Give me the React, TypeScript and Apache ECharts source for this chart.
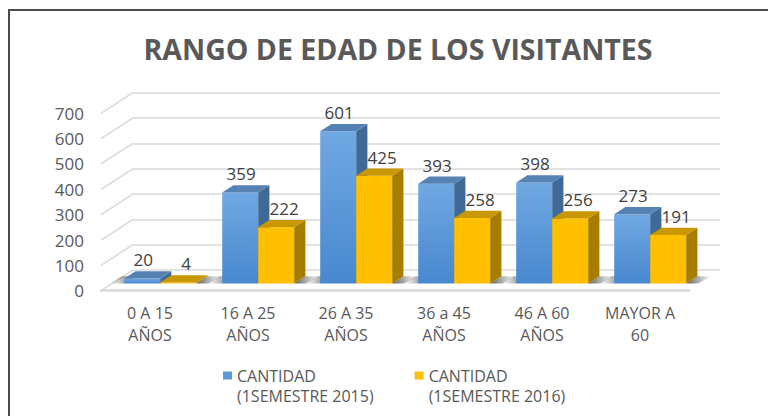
import React, { useEffect, useRef } from "react";
import * as echarts from "echarts";

const titleText = "RANGO DE EDAD DE LOS VISITANTES";
const categories = ["0 A 15\nAÑOS", "16 A 25\nAÑOS", "26 A 35\nAÑOS", "36 a 45\nAÑOS", "46 A 60\nAÑOS", "MAYOR A\n60"];
const seriesNames = ["CANTIDAD (1SEMESTRE 2015)", "CANTIDAD (1SEMESTRE 2016)"];
const values2015 = [20, 359, 601, 393, 398, 273];
const values2016 = [4, 222, 425, 258, 256, 191];
const yTicks = [0, 100, 200, 300, 400, 500, 600, 700];
const Y_MAX = 700;
const Y_STEP = 100;

const FONT = "'Open Sans', 'Liberation Sans', sans-serif";
const TEXT = "#595959";

// projection geometry
const FRONT = { left: 101, top: 113.3, width: 588, height: 177.4 };
const DX = 32;
const DY = -20.7;
const Z0 = 0.35;
const Z1 = 0.7;
const BAR_W = 36;
const bdx = (Z1 - Z0) * DX;
const bdy = (Z1 - Z0) * DY;

const BLUE = {
  legend: "#5B9BD5",
  frontTop: "#70a8e2",
  frontBottom: "#4888cf",
  top: "#5581b3",
  side: "#3f6a98",
};
const YELLOW = {
  legend: "#FFC000",
  frontTop: "#ffc000",
  frontBottom: "#ffbf00",
  top: "#c99700",
  side: "#a77d00",
};

function barSeries(name: string, values: number[], pal: any, xShift: number, labelOff: number) {
  return {
    type: "custom",
    name,
    xAxisIndex: 2,
    yAxisIndex: 2,
    z: 5,
    itemStyle: { color: pal.legend },
    data: values.map((v, i) => [i, v]),
    renderItem: (params: any, api: any) => {
      const ci = api.value(0);
      const v = api.value(1);
      const t = api.coord([ci, v]);
      const b = api.coord([ci, 0]);
      const x0 = t[0] + xShift;
      const x1 = x0 + BAR_W;
      const yT = t[1];
      const yB = b[1];
      return {
        type: "group",
        children: [
          {
            type: "rect",
            shape: { x: x0, y: yT, width: BAR_W, height: Math.max(yB - yT, 0.5) },
            style: {
              fill: new echarts.graphic.LinearGradient(0, 0, 0, 1, [
                { offset: 0, color: pal.frontTop },
                { offset: 1, color: pal.frontBottom },
              ]),
            },
          },
          {
            type: "polygon",
            shape: { points: [[x1, yT], [x1 + bdx, yT + bdy], [x1 + bdx, yB + bdy], [x1, yB]] },
            style: { fill: pal.side },
          },
          {
            type: "polygon",
            shape: { points: [[x0, yT], [x0 + bdx, yT + bdy], [x1 + bdx, yT + bdy], [x1, yT]] },
            style: { fill: pal.top },
          },
          {
            type: "text",
            style: {
              x: (x0 + x1) / 2 + labelOff,
              y: yT + bdy - 11.5,
              text: String(v),
              fill: "#404040",
              font: `17px ${FONT}`,
              align: "center",
              verticalAlign: "middle",
            },
          },
        ],
      };
    },
  };
}

export default function App() {
  const ref = useRef<HTMLDivElement>(null);
  useEffect(() => {
    if (!ref.current) return;
    const chart = echarts.init(ref.current, null, { renderer: "svg" });
    const barGrid = {
      left: FRONT.left + Z0 * DX - 1,
      top: FRONT.top + Z0 * DY,
      width: FRONT.width,
      height: FRONT.height,
    };
    const backGrid = {
      left: FRONT.left + DX,
      top: FRONT.top + DY,
      width: FRONT.width - 1,
      height: FRONT.height,
    };
    const valueAxisBase = { type: "value", min: 0, max: Y_MAX, interval: Y_STEP };
    chart.setOption({
      animation: false,
      backgroundColor: "#ffffff",
      title: {
        text: titleText,
        left: 393,
        textAlign: "center",
        top: 29,
        textStyle: { fontFamily: FONT, fontWeight: "bold", fontSize: 28.5, color: TEXT },
      },
      graphic: [
        {
          type: "rect",
          shape: { x: 9, y: 10, width: 900, height: 600 },
          style: { fill: "none", stroke: "#4a4a4a", lineWidth: 2 },
          silent: true,
        },
      ],
      legend: {
        left: 218,
        top: 361,
        itemWidth: 9,
        itemHeight: 29,
        itemGap: 41,
        selectedMode: false,
        data: seriesNames.map((n) => ({ name: n, icon: "path://M0,0H9V8H0Z M0,29H9" })),
        formatter: (n: string) => n.replace(" (", "\n("),
        itemStyle: { borderWidth: 0 },
        textStyle: { fontFamily: FONT, fontSize: 16, lineHeight: 20, color: TEXT },
      },
      grid: [
        { ...FRONT, containLabel: false },
        { ...backGrid, containLabel: false },
        { ...barGrid, containLabel: false },
      ],
      xAxis: [
        {
          type: "category",
          gridIndex: 0,
          data: categories,
          axisLine: { show: true, lineStyle: { color: "#d9d9d9", width: 2.5 } },
          axisTick: { show: false },
          axisLabel: {
            interval: 0,
            margin: 11,
            fontFamily: FONT,
            fontSize: 16,
            lineHeight: 22,
            color: TEXT,
          },
        },
        { type: "category", gridIndex: 1, data: categories, show: false },
        { type: "category", gridIndex: 2, data: categories, show: false },
      ],
      yAxis: [
        {
          ...valueAxisBase,
          gridIndex: 0,
          axisLine: { show: false },
          axisTick: { show: false },
          splitLine: { show: false },
          axisLabel: { margin: 17, fontFamily: FONT, fontSize: 17, color: TEXT },
        },
        {
          ...valueAxisBase,
          gridIndex: 1,
          axisLine: { show: false },
          axisTick: { show: false },
          axisLabel: { show: false },
          splitLine: { show: true, lineStyle: { color: "#d9d9d9", width: 1.5 } },
        },
        { ...valueAxisBase, gridIndex: 2, show: false },
      ],
      series: [
        {
          type: "custom",
          xAxisIndex: 0,
          yAxisIndex: 0,
          silent: true,
          z: 1,
          data: yTicks.map((v) => [0, v]),
          renderItem: (params: any, api: any) => {
            const p = api.coord([0, api.value(1)]);
            const x = params.coordSys.x;
            return {
              type: "line",
              shape: { x1: x, y1: p[1], x2: x + DX, y2: p[1] + DY },
              style: { stroke: "#d9d9d9", lineWidth: 1.5 },
            };
          },
        },
        {
          type: "custom",
          xAxisIndex: 2,
          yAxisIndex: 2,
          silent: true,
          z: 3,
          data: categories.map((_, i) => [i, 0]),
          renderItem: (params: any, api: any) => {
            const b = api.coord([api.value(0), 0]);
            const xl = b[0] - BAR_W;
            const xr = b[0] + BAR_W;
            const yB = b[1];
            return {
              type: "group",
              children: [
                {
                  type: "polygon",
                  shape: { points: [[xl - 14, yB], [xl, yB], [xl + bdx, yB + bdy], [xl - 14 + bdx, yB + bdy]] },
                  style: {
                    fill: new echarts.graphic.LinearGradient(0, 0, 1, 0, [
                      { offset: 0, color: "rgba(90,90,90,0)" },
                      { offset: 1, color: "rgba(60,60,60,0.85)" },
                    ]),
                  },
                },
                {
                  type: "polygon",
                  shape: { points: [[xr, yB], [xr + bdx, yB + bdy], [xr + bdx + 14, yB + bdy], [xr + 12, yB]] },
                  style: {
                    fill: new echarts.graphic.LinearGradient(0, 0, 1, 0, [
                      { offset: 0, color: "rgba(60,60,60,0.85)" },
                      { offset: 1, color: "rgba(90,90,90,0)" },
                    ]),
                  },
                },
              ],
            };
          },
        },
        barSeries(seriesNames[0], values2015, BLUE, -BAR_W, 1),
        barSeries(seriesNames[1], values2016, YELLOW, 0, 8),
      ],
    });
    return () => chart.dispose();
  }, []);
  return <div ref={ref} style={{ position: "fixed", left: 0, top: 0, width: 768, height: 416 }} />;
}
